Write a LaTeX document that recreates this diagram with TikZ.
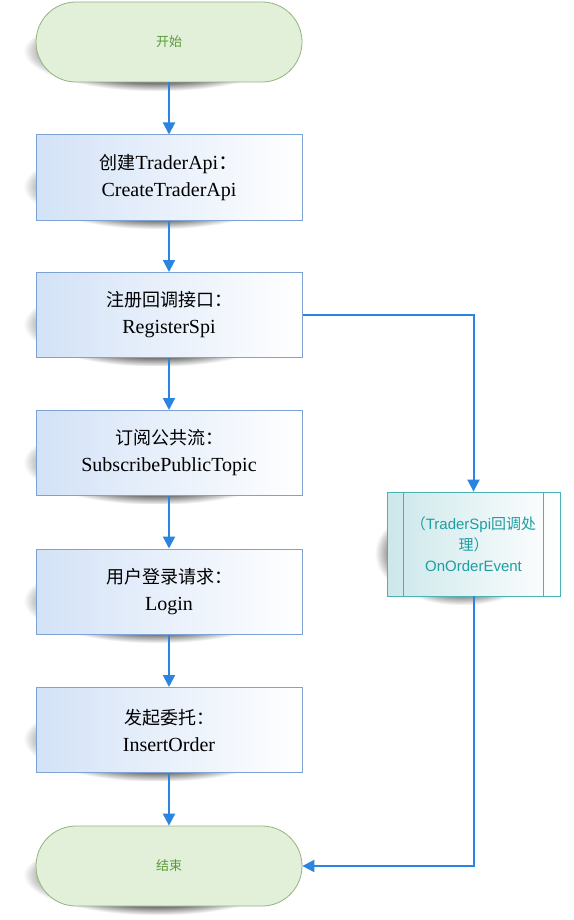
\documentclass[tikz,border=0pt]{standalone}
\usepackage{fontspec}
\setmainfont{Liberation Serif}
\newfontfamily\cjk{Noto Sans CJK SC}
\newfontfamily\sansf{Liberation Sans}
\usetikzlibrary{shadows,arrows.meta,calc,fadings}
\definecolor{arrowblue}{HTML}{2A84E0}
\definecolor{boxborder}{HTML}{7DA2D4}
\definecolor{boxfill}{HTML}{D3E2F7}
\definecolor{termfill}{HTML}{E2F0D9}
\definecolor{termborder}{HTML}{94B47E}
\definecolor{termtext}{HTML}{5A9A3A}
\definecolor{procfill}{HTML}{CCE7EA}
\definecolor{procborder}{HTML}{4AB2B4}
\definecolor{proctext}{HTML}{1E9EA2}
\tikzset{
  shadowed/.style={general shadow={fill=black!75, opacity=0.7, shadow xshift=-12pt, shadow yshift=-9pt, path fading=circle with fuzzy edge 20 percent}},
  term/.style={draw=termborder, fill=termfill, line width=0.8pt, rounded corners=40pt, minimum width=266pt, minimum height=80pt, inner sep=0pt, font=\cjk\fontsize{13}{15}\selectfont, text=termtext, shadowed},
  stepbox/.style={draw=boxborder, line width=1pt, left color=boxfill, right color=white, minimum width=266pt, minimum height=85pt, inner sep=0pt, align=center, font=\fontsize{20}{27}\selectfont, shadowed},
  procbox/.style={draw=procborder, line width=0.8pt, left color=procfill, right color=white, minimum width=173pt, minimum height=104pt, inner sep=0pt, align=center, text=proctext, font=\sansf\fontsize{15}{21}\selectfont, shadowed},
  flow/.style={draw=arrowblue, line width=2pt, -{Triangle[length=12pt,width=12pt]}},
}
\begin{document}
\begin{tikzpicture}[x=1pt,y=1pt]
\useasboundingbox (0,0) rectangle (573,-920);
\fill[white] (0,0) rectangle (573,-920);
\node[term] (start) at (169,-42) {开始};
\node[stepbox] (b1) at (169,-177.5) {{\cjk\fontsize{18}{27}\selectfont 创建}TraderApi{\cjk ：}\\CreateTraderApi};
\node[stepbox] (b2) at (169,-315) {{\cjk\fontsize{18}{27}\selectfont 注册回调接口：}\\RegisterSpi};
\node[stepbox] (b3) at (169,-453) {{\cjk\fontsize{18}{27}\selectfont 订阅公共流：}\\SubscribePublicTopic};
\node[stepbox] (b4) at (169,-591.5) {{\cjk\fontsize{18}{27}\selectfont 用户登录请求：}\\Login};
\node[stepbox] (b5) at (169,-730) {{\cjk\fontsize{18}{27}\selectfont 发起委托：}\\InsertOrder};
\node[term] (end) at (169,-866) {结束};
\node[procbox] (p) at (473.5,-544) {{\cjk （}TraderSpi{\cjk 回调处}\\{\cjk 理）}\\OnOrderEvent};
\draw[procborder, line width=0.8pt] ($(p.north west)+(17,0)$) -- ($(p.south west)+(17,0)$);
\draw[procborder, line width=0.8pt] ($(p.north east)+(-17,0)$) -- ($(p.south east)+(-17,0)$);
\draw[flow] (start) -- (b1);
\draw[flow] (b1) -- (b2);
\draw[flow] (b2) -- (b3);
\draw[flow] (b3) -- (b4);
\draw[flow] (b4) -- (b5);
\draw[flow] (b5) -- (end);
\draw[flow] (b2.east) -| (p.north);
\draw[flow] (p.south) |- (end.east);
\end{tikzpicture}
\end{document}
